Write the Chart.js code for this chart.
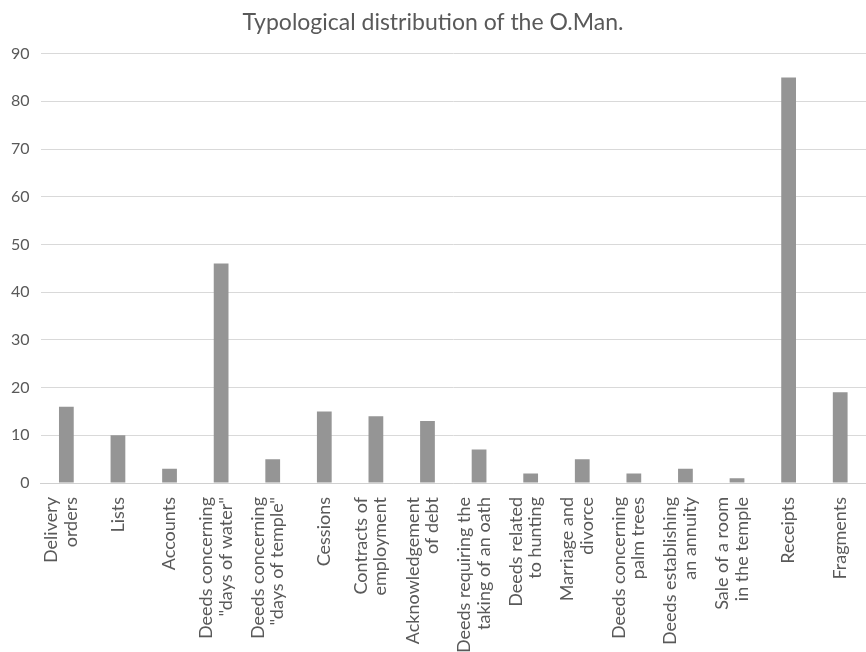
<!DOCTYPE html>
<html>
<head>
<meta charset="utf-8">
<script src="https://cdn.jsdelivr.net/npm/chart.js@4"></script>
<style>
  html, body { margin: 0; padding: 0; background: #fff; }
  #wrap { width: 866px; height: 652px; position: relative; }
</style>
</head>
<body>
<div id="wrap"><canvas id="chart"></canvas></div>
<script>
const categories = [
    ['Delivery', 'orders'],
    ['Lists'],
    ['Accounts'],
    ['Deeds concerning', '"days of water"'],
    ['Deeds concerning', '"days of temple"'],
    ['Cessions'],
    ['Contracts of', 'employment'],
    ['Acknowledgement', 'of debt'],
    ['Deeds requiring the', 'taking of an oath'],
    ['Deeds related', 'to hunting'],
    ['Marriage and', 'divorce'],
    ['Deeds concerning', 'palm trees'],
    ['Deeds establishing', 'an annuity'],
    ['Sale of a room', 'in the temple'],
    ['Receipts'],
    ['Fragments']
];
const counts = [16, 10, 3, 46, 5, 15, 14, 13, 7, 2, 5, 2, 3, 1, 85, 19];
const yTicks = [0, 10, 20, 30, 40, 50, 60, 70, 80, 90];

const FONT = 'Lato';
const TEXT = '#595959';
const LABEL_SIZE = 18;
const LABEL_LINE = 19.5;

// x labels drawn by hand so that two-line labels sit centred on the bar
const verticalLabels = {
    id: 'verticalLabels',
    afterDraw(chart) {
        const xs = chart.scales.x;
        const ctx = chart.ctx;
        ctx.save();
        ctx.fillStyle = TEXT;
        ctx.font = `${LABEL_SIZE}px ${FONT}`;
        ctx.textAlign = 'right';
        ctx.textBaseline = 'middle';
        categories.forEach((lines, i) => {
            const x = xs.getPixelForTick(i);
            const shift = lines.length > 1 ? -5 : 0;
            ctx.save();
            ctx.translate(x + shift, xs.top + 14);
            ctx.rotate(-Math.PI / 2);
            lines.forEach((line, j) => {
                ctx.fillText(line, 0, (j - (lines.length - 1) / 2) * LABEL_LINE);
            });
            ctx.restore();
        });
        ctx.restore();
    }
};

new Chart(document.getElementById('chart'), {
    type: 'bar',
    data: {
        labels: categories,
        datasets: [{
            label: 'O.Man.',
            data: counts,
            backgroundColor: '#959595',
            borderWidth: 0,
            barPercentage: 0.55,
            categoryPercentage: 0.52
        }]
    },
    plugins: [verticalLabels],
    options: {
        responsive: true,
        maintainAspectRatio: false,
        animation: false,
        layout: { padding: { left: 0, right: 0, top: 9, bottom: 0 } },
        plugins: {
            legend: { display: false },
            tooltip: { enabled: false },
            title: {
                display: true,
                text: 'Typological distribution of the O.Man.',
                color: TEXT,
                font: { family: FONT, size: 23, weight: 'normal' },
                padding: { top: 0, bottom: 17 }
            }
        },
        scales: {
            x: {
                grid: { display: false },
                border: { color: '#d0d0d0', width: 1 },
                afterFit: axis => { axis.height = 169; },
                ticks: { display: false, autoSkip: false }
            },
            y: {
                min: 0,
                max: 90,
                afterBuildTicks: axis => { axis.ticks = yTicks.map(v => ({ value: v })); },
                grid: { color: '#d9d9d9', lineWidth: 1, drawTicks: false },
                border: { display: false },
                ticks: {
                    color: TEXT,
                    font: { family: FONT, size: 16 },
                    padding: 11
                }
            }
        }
    }
});
</script>
</body>
</html>
